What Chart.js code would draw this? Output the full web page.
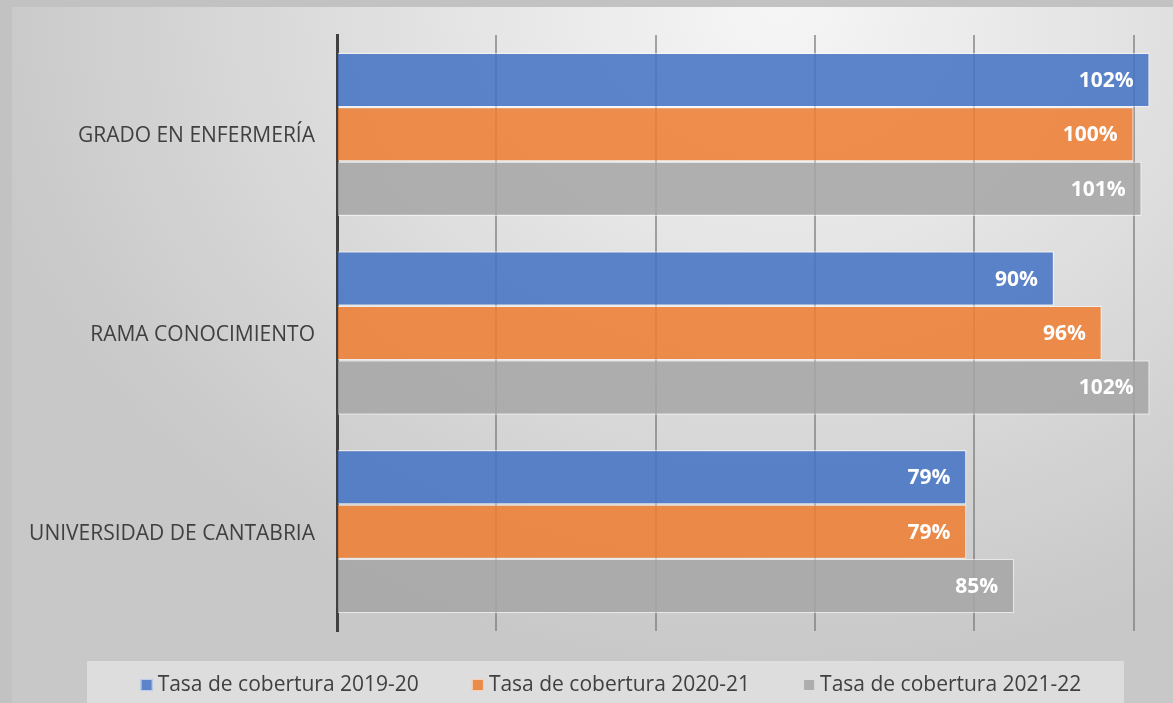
<!DOCTYPE html>
<html>
<head>
<meta charset="utf-8">
<script src="https://cdn.jsdelivr.net/npm/chart.js@4.4.1/dist/chart.umd.min.js"></script>
<style>
  html, body { margin: 0; padding: 0; }
  body { width: 1173px; height: 703px; background: #c2c2c2; position: relative; overflow: hidden; }
  #panel {
    position: absolute; left: 12px; top: 7px; width: 1161px; height: 696px;
    background: radial-gradient(ellipse 70% 95% at 66% 0%, #f6f6f6 0%, #e3e3e3 42%, #d2d2d2 78%, #c8c8c8 100%);
  }
  #c { position: absolute; left: 0; top: 0; }
</style>
</head>
<body>
<div id="panel"><canvas id="c" width="1161" height="696"></canvas></div>
<script>
const categories = ["GRADO EN ENFERMERÍA", "RAMA CONOCIMIENTO", "UNIVERSIDAD DE CANTABRIA"];
const seriesNames = ["Tasa de cobertura 2019-20", "Tasa de cobertura 2020-21", "Tasa de cobertura 2021-22"];
const values2019 = [102, 90, 79];
const values2020 = [100, 96, 79];
const values2021 = [101, 102, 85];
const gridTicks = [0, 20, 40, 60, 80, 100];

const colors = ["rgba(68,114,196,0.86)", "rgba(237,125,49,0.86)", "rgba(165,165,165,0.86)"];
const legendColors = ["#5b84cb", "#eb8b4b", "#adadad"];
const FONT = "'Open Sans', 'Liberation Sans', sans-serif";

const dataLabels = {
  id: 'dataLabels',
  afterDatasetsDraw(chart) {
    const ctx = chart.ctx;
    ctx.save();
    ctx.font = "bold 21px " + FONT;
    ctx.fillStyle = "#ffffff";
    ctx.textAlign = "right";
    ctx.textBaseline = "middle";
    chart.data.datasets.forEach((ds, i) => {
      const meta = chart.getDatasetMeta(i);
      meta.data.forEach((bar, j) => {
        ctx.fillText(ds.data[j] + "%", bar.x - 16, bar.y + 1);
      });
    });
    ctx.restore();
  }
};

const customLegend = {
  id: 'customLegend',
  afterDraw(chart) {
    const ctx = chart.ctx;
    ctx.save();
    ctx.fillStyle = "#dddddd";
    ctx.fillRect(75, 654, 1037, 50);
    ctx.font = "21px " + FONT;
    ctx.textBaseline = "middle";
    ctx.textAlign = "left";
    const box = 12, gapBox = 5, gapItem = 53;
    const items = chart.data.datasets.map((ds, i) => ({
      label: ds.label, color: legendColors[i], w: box + gapBox + ctx.measureText(ds.label).width
    }));
    const total = items.reduce((s, it) => s + it.w, 0) + gapItem * (items.length - 1);
    let x = 599 - total / 2;
    const cy = 678;
    items.forEach(it => {
      ctx.fillStyle = it.color;
      ctx.fillRect(x, cy - 6, box, box);
      ctx.strokeStyle = "rgba(255,255,255,0.6)";
      ctx.lineWidth = 1;
      ctx.strokeRect(x + 0.5, cy - 5.5, box - 1, box - 1);
      ctx.fillStyle = "#404040";
      ctx.fillText(it.label, x + box + gapBox, cy);
      x += it.w + gapItem;
    });
    ctx.restore();
  }
};

new Chart(document.getElementById('c'), {
  type: 'bar',
  data: {
    labels: categories,
    datasets: [
      { label: seriesNames[0], data: values2019, backgroundColor: colors[0] },
      { label: seriesNames[1], data: values2020, backgroundColor: colors[1] },
      { label: seriesNames[2], data: values2021, backgroundColor: colors[2] }
    ]
  },
  options: {
    indexAxis: 'y',
    responsive: false,
    animation: false,
    devicePixelRatio: 1,
    layout: { padding: { left: 0, right: 21, top: 28, bottom: 72 } },
    datasets: {
      bar: {
        categoryPercentage: 0.822,
        barPercentage: 1.0,
        borderColor: "rgba(255,255,255,0.55)",
        borderWidth: 1.2
      }
    },
    plugins: {
      legend: { display: false },
      tooltip: { enabled: false }
    },
    scales: {
      x: {
        min: 0,
        max: 102.3,
        afterBuildTicks(scale) { scale.ticks = gridTicks.map(v => ({ value: v })); },
        afterFit(scale) { scale.height = 0; scale.paddingLeft = 0; scale.paddingRight = 0; },
        ticks: { display: false },
        grid: { color: "rgba(120,120,120,0.65)", lineWidth: 2, drawTicks: false },
        border: { display: false }
      },
      y: {
        afterFit(scale) { scale.width = 325; scale.paddingTop = 0; scale.paddingBottom = 0; },
        ticks: { color: "#404040", font: { family: FONT, size: 21 }, padding: 22, labelOffset: 2 },
        grid: { display: false, drawTicks: false },
        border: { display: true, color: "#404040", width: 3 }
      }
    }
  },
  plugins: [dataLabels, customLegend]
});
</script>
</body>
</html>
